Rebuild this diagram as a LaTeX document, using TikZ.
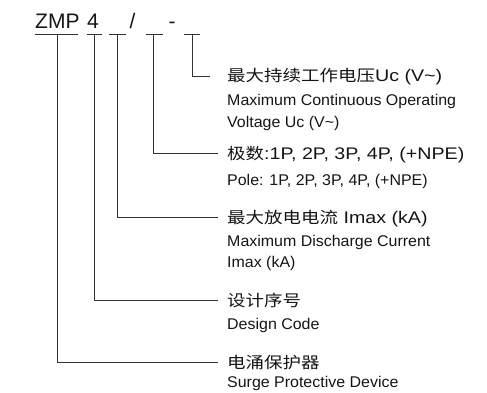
\documentclass[tikz,border=0pt]{standalone}
\usepackage{fontspec}
\setmainfont{Liberation Sans}
\newfontfamily\cjk[FakeStretch=1.17]{Noto Sans CJK SC}
\newfontfamily\cnlat[FakeStretch=1.17]{Liberation Sans}
\newfontfamily\enlat[FakeStretch=1.03]{Liberation Sans}
\usetikzlibrary{positioning}
\usepackage{xcolor}
\definecolor{ink}{HTML}{151515}
\definecolor{wire}{HTML}{333333}
\newcommand{\hanzi}[1]{{\fontsize{15.8}{16}\cjk #1}}

\begin{document}
\begin{tikzpicture}[
  x=1pt, y=-1pt,
  code/.style={anchor=base west, inner sep=0pt, font=\fontsize{21}{21}\selectfont, text=ink},
  cnlabel/.style={anchor=west, inner sep=0pt, text height=12pt, text depth=0pt,
                  font=\fontsize{16.8}{16.8}\cnlat, text=ink},
  enlabel/.style={anchor=base west, inner sep=0pt, font=\fontsize{15.5}{15.5}\enlat, text=ink},
  slotline/.style={draw=wire, line width=0.9pt},
  conn/.style={draw=wire, line width=0.9pt, shorten >=9pt}
]
  \useasboundingbox (0,0) rectangle (487,393);

  % ZMP 4 _ / _ - _
  \node[code] (zmp) at (35, 29) {ZMP};
  \node[code] (four) at (87, 29) {4};
  \node[code, anchor=base] (slash) at (132.5, 29) {/};
  \node[code, anchor=base] (dash) at (172, 29) {-};

  \foreach \n/\a/\b/\v in {1/35/78/57, 2/87/102/94, 3/109/126/117, 4/146/163/153, 5/184/200/192} {
    \coordinate (s\n) at (\v, 34);
    \draw[slotline] (\a, 34) -- (\b, 34);
  }

  % Labels
  \node[cnlabel] (cn1) at (227, 76) {\hanzi{最大持续工作电压}Uc (V\textasciitilde)};
  \node[enlabel] (en1a) at (227, 106) {Maximum Continuous Operating};
  \node[enlabel] (en1b) at (227, 127.5) {Voltage Uc (V\textasciitilde)};

  \node[cnlabel] (cn2) at (227, 153) {\hanzi{极数}:1P, 2P, 3P, 4P, (+NPE)};
  \node[enlabel] (en2) at (227, 185.5) {Pole: 1P, 2P, 3P, 4P, (+NPE)};

  \node[cnlabel] (cn3) at (227, 217) {\hanzi{最大放电电流} Imax (kA)};
  \node[enlabel] (en3a) at (227, 246) {Maximum Discharge Current};
  \node[enlabel] (en3b) at (227, 267.5) {Imax (kA)};

  \node[cnlabel] (cn4) at (227, 300) {\hanzi{设计序号}};
  \node[enlabel] (en4) at (227, 329.5) {Design Code};

  \node[cnlabel] (cn5) at (227, 362) {\hanzi{电涌保护器}};
  \node[enlabel] (en5) at (227, 387.5) {Surge Protective Device};

  % Leaders
  \draw[conn, shorten >=17pt] (s5) |- (cn1.west);
  \draw[conn] (s4) |- (cn2.west);
  \draw[conn] (s3) |- (cn3.west);
  \draw[conn] (s2) |- (cn4.west);
  \draw[conn] (s1) |- (cn5.west);
\end{tikzpicture}
\end{document}
